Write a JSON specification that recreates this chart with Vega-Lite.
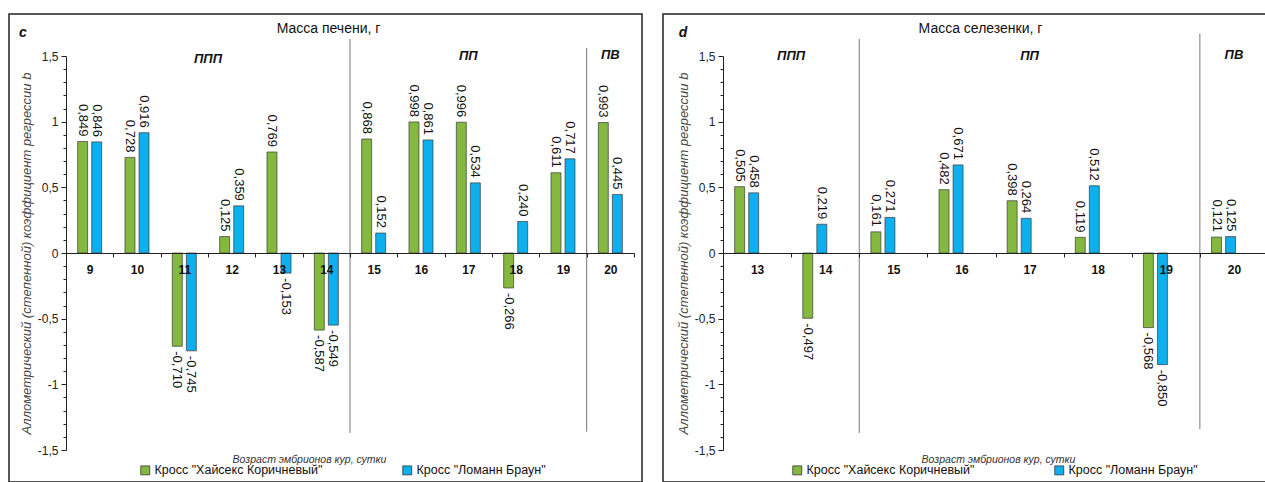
{
  "$schema": "https://vega.github.io/schema/vega-lite/v6.json",
  "padding": {"left": 8, "top": 13, "right": 0, "bottom": 0},
  "spacing": 19,
  "config": {
    "font": "Liberation Sans",
    "locale": {"number": {"decimal": ",", "thousands": " ", "grouping": [3], "currency": ["", ""], "minus": "-"}},
    "view": {"stroke": "#222", "strokeWidth": 1.5},
    "axisY": {"labelOverlap": false, "labelBound": false, "grid": false, "domain": true, "ticks": true, "domainColor": "#222", "tickColor": "#222", "labelFontSize": 12, "labelColor": "#222", "labelPadding": 3, "titleFontStyle": "italic", "titleFontWeight": "normal", "titleFontSize": 13, "titleColor": "#444", "titlePadding": 4},
    "axisX": {"labelAngle": 0, "labelFontWeight": "bold", "labelFontSize": 12, "labelPadding": 7, "labelColor": "#111", "tickBand": "extent", "tickSize": 4, "domainColor": "#222", "tickColor": "#222", "titleFontStyle": "italic", "titleFontWeight": "normal", "titleFontSize": 10.5, "titleColor": "#333", "titleBaseline": "middle", "grid": false}
  },
  "resolve": {"legend": {"color": "independent"}},
  "datasets": {
    "liver": [
      {"day": 9, "cross": "Кросс \"Хайсекс Коричневый\"", "v": 0.849},
      {"day": 9, "cross": "Кросс \"Ломанн Браун\"", "v": 0.846},
      {"day": 10, "cross": "Кросс \"Хайсекс Коричневый\"", "v": 0.728},
      {"day": 10, "cross": "Кросс \"Ломанн Браун\"", "v": 0.916},
      {"day": 11, "cross": "Кросс \"Хайсекс Коричневый\"", "v": -0.71},
      {"day": 11, "cross": "Кросс \"Ломанн Браун\"", "v": -0.745},
      {"day": 12, "cross": "Кросс \"Хайсекс Коричневый\"", "v": 0.125},
      {"day": 12, "cross": "Кросс \"Ломанн Браун\"", "v": 0.359},
      {"day": 13, "cross": "Кросс \"Хайсекс Коричневый\"", "v": 0.769},
      {"day": 13, "cross": "Кросс \"Ломанн Браун\"", "v": -0.153},
      {"day": 14, "cross": "Кросс \"Хайсекс Коричневый\"", "v": -0.587},
      {"day": 14, "cross": "Кросс \"Ломанн Браун\"", "v": -0.549},
      {"day": 15, "cross": "Кросс \"Хайсекс Коричневый\"", "v": 0.868},
      {"day": 15, "cross": "Кросс \"Ломанн Браун\"", "v": 0.152},
      {"day": 16, "cross": "Кросс \"Хайсекс Коричневый\"", "v": 0.998},
      {"day": 16, "cross": "Кросс \"Ломанн Браун\"", "v": 0.861},
      {"day": 17, "cross": "Кросс \"Хайсекс Коричневый\"", "v": 0.996},
      {"day": 17, "cross": "Кросс \"Ломанн Браун\"", "v": 0.534},
      {"day": 18, "cross": "Кросс \"Хайсекс Коричневый\"", "v": -0.266},
      {"day": 18, "cross": "Кросс \"Ломанн Браун\"", "v": 0.24},
      {"day": 19, "cross": "Кросс \"Хайсекс Коричневый\"", "v": 0.611},
      {"day": 19, "cross": "Кросс \"Ломанн Браун\"", "v": 0.717},
      {"day": 20, "cross": "Кросс \"Хайсекс Коричневый\"", "v": 0.993},
      {"day": 20, "cross": "Кросс \"Ломанн Браун\"", "v": 0.445}
    ],
    "spleen": [
      {"day": 13, "cross": "Кросс \"Хайсекс Коричневый\"", "v": 0.505},
      {"day": 13, "cross": "Кросс \"Ломанн Браун\"", "v": 0.458},
      {"day": 14, "cross": "Кросс \"Хайсекс Коричневый\"", "v": -0.497},
      {"day": 14, "cross": "Кросс \"Ломанн Браун\"", "v": 0.219},
      {"day": 15, "cross": "Кросс \"Хайсекс Коричневый\"", "v": 0.161},
      {"day": 15, "cross": "Кросс \"Ломанн Браун\"", "v": 0.271},
      {"day": 16, "cross": "Кросс \"Хайсекс Коричневый\"", "v": 0.482},
      {"day": 16, "cross": "Кросс \"Ломанн Браун\"", "v": 0.671},
      {"day": 17, "cross": "Кросс \"Хайсекс Коричневый\"", "v": 0.398},
      {"day": 17, "cross": "Кросс \"Ломанн Браун\"", "v": 0.264},
      {"day": 18, "cross": "Кросс \"Хайсекс Коричневый\"", "v": 0.119},
      {"day": 18, "cross": "Кросс \"Ломанн Браун\"", "v": 0.512},
      {"day": 19, "cross": "Кросс \"Хайсекс Коричневый\"", "v": -0.568},
      {"day": 19, "cross": "Кросс \"Ломанн Браун\"", "v": -0.85},
      {"day": 20, "cross": "Кросс \"Хайсекс Коричневый\"", "v": 0.121},
      {"day": 20, "cross": "Кросс \"Ломанн Браун\"", "v": 0.125}
    ],
    "liverSep": [{"day": 15, "v": 1.63, "bottom": -1.37}, {"day": 20, "v": 1.56, "bottom": -1.36}],
    "spleenSep": [{"day": 15, "v": 1.63, "bottom": -1.37}, {"day": 20, "v": 1.67, "bottom": -1.34}],
    "liverEdge": [{"day": 11, "v": 1.477, "t": "ППП"}],
    "liverMid": [{"day": 17, "v": 1.5, "t": "ПП"}, {"day": 20, "v": 1.51, "t": "ПВ"}],
    "liverLetter": [{"day": 9, "v": 1.675, "t": "c"}],
    "spleenEdge": [{"day": 13, "v": 1.5, "t": "ППП"}],
    "spleenMid": [{"day": 17, "v": 1.5, "t": "ПП"}, {"day": 20, "v": 1.51, "t": "ПВ"}],
    "spleenLetter": [{"day": 13, "v": 1.675, "t": "d"}]
  },
  "hconcat": [
    {
      "width": 633,
      "height": 468,
      "title": {"text": "Масса печени, г", "anchor": "middle", "frame": "group", "offset": -22, "dx": 3, "fontSize": 14, "fontWeight": "normal", "color": "#111"},
      "encoding": {
        "x": {"field": "day", "type": "ordinal", "scale": {"range": [57, 625], "paddingInner": 0, "paddingOuter": 0},
          "axis": {"title": "Возраст эмбрионов кур, сутки", "titleX": 300, "titleY": 206, "offset": -229, "zindex": 2}},
        "y": {"field": "v", "type": "quantitative", "scale": {"domain": [-1.5, 1.5], "range": [436, 42], "nice": false, "zero": false},
          "axis": {"title": "Аллометрический (степенной) коэффициент регрессии b", "offset": -57, "zindex": 2, "values": [-1.5, -1.4, -1.3, -1.2, -1.1, -1, -0.9, -0.8, -0.7, -0.6, -0.5, -0.4, -0.3, -0.2, -0.1, 0, 0.1, 0.2, 0.3, 0.4, 0.5, 0.6, 0.7, 0.8, 0.9, 1, 1.1, 1.2, 1.3, 1.4, 1.5], "format": ".1~f", "labelExpr": "abs(datum.value*2 - round(datum.value*2)) < 0.01 ? datum.label : ''", "tickSize": {"condition": {"test": "abs(datum.value*2 - round(datum.value*2)) < 0.01", "value": 5}, "value": 3}}}
      },
      "layer": [
        {
          "data": {"name": "liver"},
          "mark": {"type": "bar", "stroke": "#3a3a3a", "strokeWidth": 0.7},
          "encoding": {
            "xOffset": {"field": "cross", "type": "nominal", "sort": ["Кросс \"Хайсекс Коричневый\"", "Кросс \"Ломанн Браун\""], "scale": {"paddingInner": 0.29, "paddingOuter": 0.83}},
            "color": {"field": "cross", "type": "nominal", "scale": {"domain": ["Кросс \"Хайсекс Коричневый\"", "Кросс \"Ломанн Браун\""], "range": ["#84b83f", "#0db0ee"]},
              "legend": {"orient": "none", "legendX": 130, "legendY": 450, "direction": "horizontal", "title": null, "symbolType": "square", "symbolSize": 80, "symbolStrokeColor": "#333", "symbolStrokeWidth": 0.8, "labelFontSize": 12.5, "labelColor": "#111", "labelLimit": 300, "columnPadding": 78, "labelOffset": 3}}
          }
        },
        {
          "data": {"name": "liver"},
          "transform": [{"filter": "datum.v >= 0"}],
          "mark": {"type": "text", "angle": 90, "align": "right", "baseline": "middle", "dx": -5, "fontSize": 13, "color": "#111"},
          "encoding": {
            "xOffset": {"field": "cross", "type": "nominal", "sort": ["Кросс \"Хайсекс Коричневый\"", "Кросс \"Ломанн Браун\""]},
            "text": {"field": "v", "type": "quantitative", "format": ".3f"}
          }
        },
        {
          "data": {"name": "liver"},
          "transform": [{"filter": "datum.v < 0"}],
          "mark": {"type": "text", "angle": 90, "align": "left", "baseline": "middle", "dx": 5, "fontSize": 13, "color": "#111"},
          "encoding": {
            "xOffset": {"field": "cross", "type": "nominal", "sort": ["Кросс \"Хайсекс Коричневый\"", "Кросс \"Ломанн Браун\""]},
            "text": {"field": "v", "type": "quantitative", "format": ".3f"}
          }
        },
        {
          "data": {"name": "liverSep"},
          "mark": {"type": "rule", "color": "#777", "strokeWidth": 1},
          "encoding": {
            "x": {"field": "day", "type": "ordinal", "bandPosition": 0},
            "y2": {"field": "bottom"}
          }
        },
        {
          "data": {"name": "liverEdge"},
          "mark": {"type": "text", "fontSize": 13, "fontWeight": "bold", "fontStyle": "italic", "color": "#111", "baseline": "middle"},
          "encoding": {"x": {"field": "day", "type": "ordinal", "bandPosition": 1}, "text": {"field": "t"}}
        },
        {
          "data": {"name": "liverMid"},
          "mark": {"type": "text", "fontSize": 13, "fontWeight": "bold", "fontStyle": "italic", "color": "#111", "baseline": "middle"},
          "encoding": {"x": {"field": "day", "type": "ordinal", "bandPosition": 0.5}, "text": {"field": "t"}}
        },
        {
          "data": {"name": "liverLetter"},
          "mark": {"type": "text", "fontSize": 14, "fontWeight": "bold", "fontStyle": "italic", "color": "#111", "baseline": "middle", "dx": -43},
          "encoding": {"x": {"field": "day", "type": "ordinal", "bandPosition": 0}, "text": {"field": "t"}}
        }
      ]
    },
    {
      "width": 605,
      "height": 468,
      "title": {"text": "Масса селезенки, г", "anchor": "middle", "frame": "group", "offset": -22, "dx": 15, "fontSize": 14, "fontWeight": "normal", "color": "#111"},
      "encoding": {
        "x": {"field": "day", "type": "ordinal", "scale": {"range": [60, 605], "paddingInner": 0, "paddingOuter": 0},
          "axis": {"title": "Возраст эмбрионов кур, сутки", "titleX": 335, "titleY": 206, "offset": -229, "zindex": 2}},
        "y": {"field": "v", "type": "quantitative", "scale": {"domain": [-1.5, 1.5], "range": [436, 42], "nice": false, "zero": false},
          "axis": {"title": "Аллометрический (степенной) коэффициент регрессии b", "offset": -60, "zindex": 2, "values": [-1.5, -1.4, -1.3, -1.2, -1.1, -1, -0.9, -0.8, -0.7, -0.6, -0.5, -0.4, -0.3, -0.2, -0.1, 0, 0.1, 0.2, 0.3, 0.4, 0.5, 0.6, 0.7, 0.8, 0.9, 1, 1.1, 1.2, 1.3, 1.4, 1.5], "format": ".1~f", "labelExpr": "abs(datum.value*2 - round(datum.value*2)) < 0.01 ? datum.label : ''", "tickSize": {"condition": {"test": "abs(datum.value*2 - round(datum.value*2)) < 0.01", "value": 5}, "value": 3}}}
      },
      "layer": [
        {
          "data": {"name": "spleen"},
          "mark": {"type": "bar", "stroke": "#3a3a3a", "strokeWidth": 0.7},
          "encoding": {
            "xOffset": {"field": "cross", "type": "nominal", "sort": ["Кросс \"Хайсекс Коричневый\"", "Кросс \"Ломанн Браун\""], "scale": {"paddingInner": 0.24, "paddingOuter": 0.83}},
            "color": {"field": "cross", "type": "nominal", "scale": {"domain": ["Кросс \"Хайсекс Коричневый\"", "Кросс \"Ломанн Браун\""], "range": ["#84b83f", "#0db0ee"]},
              "legend": {"orient": "none", "legendX": 128, "legendY": 450, "direction": "horizontal", "title": null, "symbolType": "square", "symbolSize": 80, "symbolStrokeColor": "#333", "symbolStrokeWidth": 0.8, "labelFontSize": 12.5, "labelColor": "#111", "labelLimit": 300, "columnPadding": 78, "labelOffset": 3}}
          }
        },
        {
          "data": {"name": "spleen"},
          "transform": [{"filter": "datum.v >= 0"}],
          "mark": {"type": "text", "angle": 90, "align": "right", "baseline": "middle", "dx": -5, "fontSize": 13, "color": "#111"},
          "encoding": {
            "xOffset": {"field": "cross", "type": "nominal", "sort": ["Кросс \"Хайсекс Коричневый\"", "Кросс \"Ломанн Браун\""]},
            "text": {"field": "v", "type": "quantitative", "format": ".3f"}
          }
        },
        {
          "data": {"name": "spleen"},
          "transform": [{"filter": "datum.v < 0"}],
          "mark": {"type": "text", "angle": 90, "align": "left", "baseline": "middle", "dx": 5, "fontSize": 13, "color": "#111"},
          "encoding": {
            "xOffset": {"field": "cross", "type": "nominal", "sort": ["Кросс \"Хайсекс Коричневый\"", "Кросс \"Ломанн Браун\""]},
            "text": {"field": "v", "type": "quantitative", "format": ".3f"}
          }
        },
        {
          "data": {"name": "spleenSep"},
          "mark": {"type": "rule", "color": "#777", "strokeWidth": 1},
          "encoding": {
            "x": {"field": "day", "type": "ordinal", "bandPosition": 0},
            "y2": {"field": "bottom"}
          }
        },
        {
          "data": {"name": "spleenEdge"},
          "mark": {"type": "text", "fontSize": 13, "fontWeight": "bold", "fontStyle": "italic", "color": "#111", "baseline": "middle"},
          "encoding": {"x": {"field": "day", "type": "ordinal", "bandPosition": 1}, "text": {"field": "t"}}
        },
        {
          "data": {"name": "spleenMid"},
          "mark": {"type": "text", "fontSize": 13, "fontWeight": "bold", "fontStyle": "italic", "color": "#111", "baseline": "middle"},
          "encoding": {"x": {"field": "day", "type": "ordinal", "bandPosition": 0.5}, "text": {"field": "t"}}
        },
        {
          "data": {"name": "spleenLetter"},
          "mark": {"type": "text", "fontSize": 14, "fontWeight": "bold", "fontStyle": "italic", "color": "#111", "baseline": "middle", "dx": -40},
          "encoding": {"x": {"field": "day", "type": "ordinal", "bandPosition": 0}, "text": {"field": "t"}}
        }
      ]
    }
  ]
}
